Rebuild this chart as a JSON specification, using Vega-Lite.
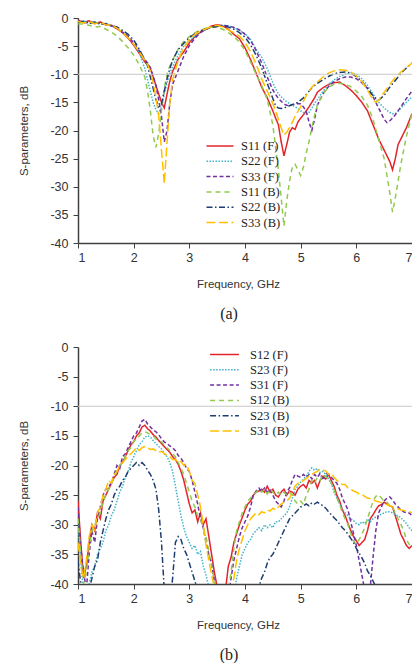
{
  "$schema": "https://vega.github.io/schema/vega-lite/v6.json",
  "background": "white",
  "padding": {"left": 18, "top": 12, "right": 0, "bottom": 0},
  "spacing": 19,
  "config": {
    "view": {"stroke": null},
    "axis": {
      "grid": false,
      "domainColor": "#404040",
      "domainWidth": 1.5,
      "tickColor": "#404040",
      "tickSize": 5,
      "labelOverlap": false,
      "labelFont": "Liberation Sans",
      "labelFontSize": 12.5,
      "labelColor": "#333333",
      "titleFont": "Liberation Sans",
      "titleFontSize": 11.5,
      "titleFontWeight": "normal",
      "titleColor": "#333333"
    },
    "legend": {
      "orient": "none",
      "title": null,
      "padding": 0,
      "symbolType": "M-1.9,0H1.9",
      "symbolStrokeWidth": 1.5,
      "labelFont": "Liberation Serif",
      "labelFontSize": 12.5,
      "labelColor": "#222222"
    },
    "title": {
      "orient": "bottom",
      "font": "Liberation Serif",
      "fontSize": 16,
      "fontWeight": "normal",
      "color": "#222222",
      "offset": 16,
      "dx": -16
    }
  },
  "resolve": {
    "scale": {"color": "independent", "strokeDash": "independent"},
    "legend": {"color": "independent", "strokeDash": "independent"}
  },
  "datasets": {
    "a": [
      {"f": 1.0, "S11F": -0.4, "S22F": -0.6, "S33F": -0.5, "S11B": -1.0, "S22B": -0.8, "S33B": -0.6},
      {"f": 1.1, "S11F": -0.8, "S22F": -0.5, "S33F": -0.9, "S11B": -1.1, "S22B": -0.6, "S33B": -0.9},
      {"f": 1.2, "S11F": -0.5, "S22F": -0.9, "S33F": -0.6, "S11B": -1.3, "S22B": -1.0, "S33B": -0.6},
      {"f": 1.3, "S11F": -1.0, "S22F": -0.7, "S33F": -1.0, "S11B": -1.6, "S22B": -0.7, "S33B": -1.0},
      {"f": 1.4, "S11F": -0.7, "S22F": -1.1, "S33F": -0.8, "S11B": -1.5, "S22B": -1.1, "S33B": -0.8},
      {"f": 1.5, "S11F": -1.2, "S22F": -1.0, "S33F": -1.2, "S11B": -2.0, "S22B": -1.0, "S33B": -1.2},
      {"f": 1.6, "S11F": -1.3, "S22F": -1.4, "S33F": -1.4, "S11B": -2.5, "S22B": -1.4, "S33B": -1.3},
      {"f": 1.7, "S11F": -1.9, "S22F": -1.8, "S33F": -1.9, "S11B": -3.2, "S22B": -1.6, "S33B": -1.8},
      {"f": 1.8, "S11F": -2.6, "S22F": -2.5, "S33F": -2.5, "S11B": -4.2, "S22B": -2.2, "S33B": -2.6},
      {"f": 1.9, "S11F": -3.6, "S22F": -3.3, "S33F": -3.3, "S11B": -5.3, "S22B": -2.9, "S33B": -3.5},
      {"f": 2.0, "S11F": -4.8, "S22F": -4.6, "S33F": -4.4, "S11B": -6.6, "S22B": -3.9, "S33B": -4.6},
      {"f": 2.1, "S11F": -6.3, "S22F": -6.2, "S33F": -5.8, "S11B": -8.3, "S22B": -5.5, "S33B": -6.0},
      {"f": 2.2, "S11F": -7.8, "S22F": -9.0, "S33F": -7.4, "S11B": -10.5, "S22B": -7.5, "S33B": -7.6},
      {"f": 2.25, "S11F": -8.2, "S22F": -11.0, "S33F": -8.0, "S11B": -13.0, "S22B": -8.5, "S33B": -8.3},
      {"f": 2.3, "S11F": -9.0, "S22F": -13.0, "S33F": -8.8, "S11B": -16.5, "S22B": -10.5, "S33B": -9.5},
      {"f": 2.35, "S11F": -10.5, "S22F": -15.0, "S33F": -10.3, "S11B": -21.0, "S22B": -12.5, "S33B": -11.5},
      {"f": 2.4, "S11F": -12.0, "S22F": -16.3, "S33F": -12.0, "S11B": -23.0, "S22B": -14.5, "S33B": -14.0},
      {"f": 2.45, "S11F": -13.5, "S22F": -17.0, "S33F": -14.5, "S11B": -20.5, "S22B": -15.8, "S33B": -17.5},
      {"f": 2.5, "S11F": -15.0, "S22F": -15.8, "S33F": -17.5, "S11B": -16.5, "S22B": -15.3, "S33B": -23.5},
      {"f": 2.55, "S11F": -16.0, "S22F": -13.5, "S33F": -22.0, "S11B": -12.5, "S22B": -13.0, "S33B": -29.5},
      {"f": 2.6, "S11F": -13.5, "S22F": -11.5, "S33F": -20.0, "S11B": -10.0, "S22B": -10.8, "S33B": -22.0},
      {"f": 2.65, "S11F": -11.2, "S22F": -9.8, "S33F": -15.0, "S11B": -8.5, "S22B": -9.0, "S33B": -15.0},
      {"f": 2.7, "S11F": -9.5, "S22F": -8.6, "S33F": -11.8, "S11B": -7.5, "S22B": -7.5, "S33B": -11.0},
      {"f": 2.8, "S11F": -7.3, "S22F": -6.6, "S33F": -9.3, "S11B": -5.5, "S22B": -5.6, "S33B": -7.5},
      {"f": 2.9, "S11F": -6.0, "S22F": -5.0, "S33F": -6.8, "S11B": -4.2, "S22B": -4.5, "S33B": -5.3},
      {"f": 3.0, "S11F": -4.4, "S22F": -4.0, "S33F": -4.9, "S11B": -3.3, "S22B": -3.5, "S33B": -3.8},
      {"f": 3.1, "S11F": -3.3, "S22F": -3.2, "S33F": -3.6, "S11B": -2.6, "S22B": -2.8, "S33B": -2.9},
      {"f": 3.2, "S11F": -2.5, "S22F": -2.5, "S33F": -2.6, "S11B": -2.2, "S22B": -2.3, "S33B": -2.3},
      {"f": 3.3, "S11F": -2.0, "S22F": -2.0, "S33F": -2.0, "S11B": -1.8, "S22B": -1.9, "S33B": -1.9},
      {"f": 3.4, "S11F": -1.4, "S22F": -1.6, "S33F": -1.6, "S11B": -1.6, "S22B": -1.6, "S33B": -1.5},
      {"f": 3.5, "S11F": -1.2, "S22F": -1.4, "S33F": -1.4, "S11B": -1.7, "S22B": -1.5, "S33B": -1.3},
      {"f": 3.6, "S11F": -1.4, "S22F": -1.3, "S33F": -1.3, "S11B": -2.0, "S22B": -1.4, "S33B": -1.6},
      {"f": 3.7, "S11F": -2.0, "S22F": -1.4, "S33F": -1.4, "S11B": -2.6, "S22B": -1.6, "S33B": -2.1},
      {"f": 3.8, "S11F": -2.9, "S22F": -1.7, "S33F": -1.7, "S11B": -3.3, "S22B": -2.0, "S33B": -2.6},
      {"f": 3.9, "S11F": -3.7, "S22F": -2.2, "S33F": -2.1, "S11B": -4.3, "S22B": -2.6, "S33B": -3.2},
      {"f": 4.0, "S11F": -5.3, "S22F": -2.8, "S33F": -2.9, "S11B": -5.8, "S22B": -3.4, "S33B": -4.3},
      {"f": 4.1, "S11F": -7.4, "S22F": -3.8, "S33F": -4.0, "S11B": -7.8, "S22B": -4.8, "S33B": -6.0},
      {"f": 4.2, "S11F": -9.8, "S22F": -5.5, "S33F": -5.8, "S11B": -10.0, "S22B": -6.6, "S33B": -8.2},
      {"f": 4.3, "S11F": -12.3, "S22F": -7.0, "S33F": -8.0, "S11B": -12.0, "S22B": -8.9, "S33B": -10.8},
      {"f": 4.4, "S11F": -14.2, "S22F": -9.0, "S33F": -10.5, "S11B": -14.5, "S22B": -11.6, "S33B": -13.0},
      {"f": 4.5, "S11F": -16.5, "S22F": -11.5, "S33F": -12.8, "S11B": -19.0, "S22B": -14.3, "S33B": -15.2},
      {"f": 4.55, "S11F": -17.8, "S22F": -12.6, "S33F": -13.6, "S11B": -23.0, "S22B": -15.6, "S33B": -16.5},
      {"f": 4.6, "S11F": -19.0, "S22F": -13.5, "S33F": -14.3, "S11B": -27.0, "S22B": -16.0, "S33B": -18.0},
      {"f": 4.65, "S11F": -22.0, "S22F": -14.0, "S33F": -14.8, "S11B": -32.0, "S22B": -16.1, "S33B": -19.5},
      {"f": 4.7, "S11F": -24.5, "S22F": -14.5, "S33F": -15.3, "S11B": -37.0, "S22B": -16.0, "S33B": -20.8},
      {"f": 4.75, "S11F": -22.5, "S22F": -14.9, "S33F": -15.5, "S11B": -32.5, "S22B": -15.8, "S33B": -20.3},
      {"f": 4.8, "S11F": -20.3, "S22F": -15.2, "S33F": -15.6, "S11B": -29.0, "S22B": -15.6, "S33B": -19.5},
      {"f": 4.85, "S11F": -19.5, "S22F": -15.5, "S33F": -15.4, "S11B": -26.5, "S22B": -15.4, "S33B": -18.5},
      {"f": 4.9, "S11F": -19.8, "S22F": -15.8, "S33F": -15.3, "S11B": -26.0, "S22B": -15.2, "S33B": -17.5},
      {"f": 4.95, "S11F": -18.5, "S22F": -16.1, "S33F": -15.2, "S11B": -27.0, "S22B": -15.0, "S33B": -16.6},
      {"f": 5.0, "S11F": -17.8, "S22F": -16.5, "S33F": -15.3, "S11B": -28.0, "S22B": -14.6, "S33B": -15.8},
      {"f": 5.05, "S11F": -17.2, "S22F": -16.8, "S33F": -15.8, "S11B": -26.5, "S22B": -14.2, "S33B": -14.8},
      {"f": 5.1, "S11F": -16.5, "S22F": -17.0, "S33F": -16.6, "S11B": -24.0, "S22B": -13.6, "S33B": -13.8},
      {"f": 5.15, "S11F": -15.8, "S22F": -16.8, "S33F": -18.5, "S11B": -22.0, "S22B": -13.0, "S33B": -13.0},
      {"f": 5.2, "S11F": -15.0, "S22F": -16.0, "S33F": -20.0, "S11B": -19.5, "S22B": -12.4, "S33B": -12.3},
      {"f": 5.25, "S11F": -14.2, "S22F": -15.2, "S33F": -18.0, "S11B": -17.3, "S22B": -12.0, "S33B": -11.8},
      {"f": 5.3, "S11F": -13.2, "S22F": -14.5, "S33F": -15.5, "S11B": -15.5, "S22B": -11.6, "S33B": -11.4},
      {"f": 5.4, "S11F": -12.4, "S22F": -13.0, "S33F": -13.5, "S11B": -13.5, "S22B": -11.0, "S33B": -10.5},
      {"f": 5.5, "S11F": -11.8, "S22F": -11.8, "S33F": -12.2, "S11B": -12.3, "S22B": -10.4, "S33B": -9.8},
      {"f": 5.6, "S11F": -11.5, "S22F": -11.0, "S33F": -11.3, "S11B": -11.8, "S22B": -9.9, "S33B": -9.4},
      {"f": 5.7, "S11F": -11.4, "S22F": -10.4, "S33F": -10.8, "S11B": -11.6, "S22B": -9.7, "S33B": -9.2},
      {"f": 5.8, "S11F": -12.0, "S22F": -10.0, "S33F": -10.5, "S11B": -11.8, "S22B": -9.6, "S33B": -9.3},
      {"f": 5.9, "S11F": -12.8, "S22F": -9.7, "S33F": -10.5, "S11B": -12.2, "S22B": -9.8, "S33B": -9.6},
      {"f": 6.0, "S11F": -13.8, "S22F": -10.0, "S33F": -10.8, "S11B": -13.0, "S22B": -10.4, "S33B": -10.3},
      {"f": 6.1, "S11F": -15.0, "S22F": -10.8, "S33F": -11.5, "S11B": -14.0, "S22B": -11.3, "S33B": -11.3},
      {"f": 6.2, "S11F": -16.5, "S22F": -12.0, "S33F": -12.5, "S11B": -15.5, "S22B": -12.5, "S33B": -12.8},
      {"f": 6.3, "S11F": -19.0, "S22F": -13.5, "S33F": -14.0, "S11B": -18.0, "S22B": -13.8, "S33B": -14.6},
      {"f": 6.35, "S11F": -20.2, "S22F": -14.3, "S33F": -15.0, "S11B": -19.8, "S22B": -14.3, "S33B": -15.0},
      {"f": 6.4, "S11F": -21.5, "S22F": -15.0, "S33F": -16.0, "S11B": -21.5, "S22B": -14.6, "S33B": -14.6},
      {"f": 6.5, "S11F": -23.5, "S22F": -16.0, "S33F": -18.0, "S11B": -25.0, "S22B": -13.8, "S33B": -13.2},
      {"f": 6.55, "S11F": -24.5, "S22F": -16.4, "S33F": -18.6, "S11B": -28.0, "S22B": -13.0, "S33B": -12.5},
      {"f": 6.6, "S11F": -25.5, "S22F": -16.8, "S33F": -18.3, "S11B": -31.0, "S22B": -12.3, "S33B": -11.8},
      {"f": 6.65, "S11F": -27.0, "S22F": -17.0, "S33F": -17.8, "S11B": -34.5, "S22B": -11.7, "S33B": -11.2},
      {"f": 6.7, "S11F": -25.0, "S22F": -17.0, "S33F": -17.2, "S11B": -32.0, "S22B": -11.1, "S33B": -10.6},
      {"f": 6.75, "S11F": -22.5, "S22F": -16.6, "S33F": -16.5, "S11B": -29.0, "S22B": -10.5, "S33B": -10.1},
      {"f": 6.8, "S11F": -21.5, "S22F": -16.0, "S33F": -15.8, "S11B": -26.0, "S22B": -9.8, "S33B": -9.6},
      {"f": 6.9, "S11F": -19.5, "S22F": -15.0, "S33F": -14.3, "S11B": -21.0, "S22B": -8.9, "S33B": -8.8},
      {"f": 7.0, "S11F": -17.0, "S22F": -14.0, "S33F": -13.0, "S11B": -17.0, "S22B": -8.0, "S33B": -8.0}
    ],
    "b": [
      {"f": 1.00, "S12F": -26, "S23F": -30, "S31F": -27, "S12B": -29, "S23B": -36, "S31B": -33},
      {"f": 1.05, "S12F": -33, "S23F": -36, "S31F": -34, "S12B": -35, "S23B": -40, "S31B": -37},
      {"f": 1.10, "S12F": -39, "S23F": -42, "S31F": -38, "S12B": -40, "S23B": -43, "S31B": -39},
      {"f": 1.15, "S12F": -37, "S23F": -41, "S31F": -41, "S12B": -38, "S23B": -42, "S31B": -36},
      {"f": 1.20, "S12F": -33, "S23F": -40, "S31F": -35, "S12B": -34, "S23B": -41, "S31B": -32},
      {"f": 1.25, "S12F": -30, "S23F": -38, "S31F": -31, "S12B": -31, "S23B": -39, "S31B": -30},
      {"f": 1.30, "S12F": -31, "S23F": -37, "S31F": -33, "S12B": -30, "S23B": -37, "S31B": -31},
      {"f": 1.35, "S12F": -28, "S23F": -35, "S31F": -29, "S12B": -29, "S23B": -36, "S31B": -28},
      {"f": 1.40, "S12F": -29, "S23F": -34, "S31F": -27, "S12B": -28, "S23B": -33, "S31B": -27},
      {"f": 1.45, "S12F": -26, "S23F": -33, "S31F": -25, "S12B": -26, "S23B": -31, "S31B": -25},
      {"f": 1.50, "S12F": -25, "S23F": -31, "S31F": -24, "S12B": -25, "S23B": -29, "S31B": -24},
      {"f": 1.55, "S12F": -24, "S23F": -30, "S31F": -23.5, "S12B": -24, "S23B": -27.5, "S31B": -22.5},
      {"f": 1.60, "S12F": -23, "S23F": -28.5, "S31F": -23, "S12B": -23, "S23B": -26.5, "S31B": -23},
      {"f": 1.65, "S12F": -22, "S23F": -27.5, "S31F": -21.5, "S12B": -22, "S23B": -25, "S31B": -21.5},
      {"f": 1.70, "S12F": -21.5, "S23F": -26, "S31F": -20, "S12B": -21, "S23B": -24, "S31B": -21},
      {"f": 1.75, "S12F": -20, "S23F": -24.5, "S31F": -20.5, "S12B": -20, "S23B": -23.5, "S31B": -20},
      {"f": 1.80, "S12F": -19.5, "S23F": -23.5, "S31F": -18.5, "S12B": -19.5, "S23B": -22.5, "S31B": -19.5},
      {"f": 1.85, "S12F": -18.5, "S23F": -22, "S31F": -18, "S12B": -18.5, "S23B": -22, "S31B": -19},
      {"f": 1.90, "S12F": -17.5, "S23F": -21, "S31F": -17, "S12B": -17.5, "S23B": -21, "S31B": -18.5},
      {"f": 1.95, "S12F": -16.5, "S23F": -19.5, "S31F": -16, "S12B": -17, "S23B": -20.5, "S31B": -18},
      {"f": 2.00, "S12F": -16, "S23F": -18.5, "S31F": -15, "S12B": -16, "S23B": -20, "S31B": -17.5},
      {"f": 2.05, "S12F": -15, "S23F": -17.5, "S31F": -14.5, "S12B": -15.5, "S23B": -19.5, "S31B": -17},
      {"f": 2.10, "S12F": -14.5, "S23F": -16.5, "S31F": -13.5, "S12B": -15, "S23B": -20, "S31B": -17.5},
      {"f": 2.15, "S12F": -13.5, "S23F": -16, "S31F": -12.5, "S12B": -14.5, "S23B": -19.5, "S31B": -17},
      {"f": 2.20, "S12F": -13.2, "S23F": -15.2, "S31F": -12.2, "S12B": -14.3, "S23B": -20, "S31B": -16.8},
      {"f": 2.25, "S12F": -13.8, "S23F": -15, "S31F": -13, "S12B": -14.5, "S23B": -20.8, "S31B": -17},
      {"f": 2.30, "S12F": -14.2, "S23F": -15.2, "S31F": -13.5, "S12B": -14.8, "S23B": -21.5, "S31B": -17.3},
      {"f": 2.35, "S12F": -14.8, "S23F": -15.8, "S31F": -14, "S12B": -15, "S23B": -22.5, "S31B": -17.2},
      {"f": 2.40, "S12F": -15.2, "S23F": -16.3, "S31F": -14.3, "S12B": -15.5, "S23B": -24, "S31B": -17.5},
      {"f": 2.45, "S12F": -15.8, "S23F": -16.8, "S31F": -14.8, "S12B": -15.8, "S23B": -27.5, "S31B": -17.8},
      {"f": 2.50, "S12F": -16.3, "S23F": -17.2, "S31F": -15.5, "S12B": -16, "S23B": -33, "S31B": -17.6},
      {"f": 2.55, "S12F": -16.8, "S23F": -18, "S31F": -16, "S12B": -16.5, "S23B": -41, "S31B": -18},
      {"f": 2.60, "S12F": -17.3, "S23F": -18.5, "S31F": -16.3, "S12B": -17, "S23B": -46, "S31B": -18.3},
      {"f": 2.65, "S12F": -17.8, "S23F": -19.5, "S31F": -16.7, "S12B": -17.5, "S23B": -43, "S31B": -18.5},
      {"f": 2.70, "S12F": -18.5, "S23F": -21, "S31F": -17, "S12B": -18, "S23B": -39, "S31B": -19},
      {"f": 2.75, "S12F": -19, "S23F": -23.5, "S31F": -17.5, "S12B": -18.5, "S23B": -33, "S31B": -19},
      {"f": 2.80, "S12F": -19.8, "S23F": -26, "S31F": -18.3, "S12B": -19.5, "S23B": -32, "S31B": -19.5},
      {"f": 2.85, "S12F": -21, "S23F": -28.5, "S31F": -18.8, "S12B": -20.5, "S23B": -32.5, "S31B": -19.3},
      {"f": 2.90, "S12F": -22.5, "S23F": -30.5, "S31F": -19.5, "S12B": -21.5, "S23B": -34, "S31B": -20},
      {"f": 2.95, "S12F": -24.5, "S23F": -32, "S31F": -20.5, "S12B": -23, "S23B": -35, "S31B": -19.8},
      {"f": 3.00, "S12F": -26.5, "S23F": -33, "S31F": -21, "S12B": -24.5, "S23B": -36.5, "S31B": -21},
      {"f": 3.05, "S12F": -28, "S23F": -34, "S31F": -22.5, "S12B": -26, "S23B": -38, "S31B": -22.5},
      {"f": 3.10, "S12F": -27.5, "S23F": -33.5, "S31F": -24.5, "S12B": -27, "S23B": -39.5, "S31B": -23},
      {"f": 3.15, "S12F": -29.5, "S23F": -35, "S31F": -26.5, "S12B": -28.5, "S23B": -41, "S31B": -25},
      {"f": 3.20, "S12F": -28, "S23F": -34.5, "S31F": -29, "S12B": -29, "S23B": -46, "S31B": -27},
      {"f": 3.25, "S12F": -30, "S23F": -37, "S31F": -30.5, "S12B": -30.5, "S23B": -48, "S31B": -30},
      {"f": 3.30, "S12F": -29, "S23F": -38.5, "S31F": -33, "S12B": -32, "S23B": -50, "S31B": -33.5},
      {"f": 3.35, "S12F": -32, "S23F": -40.5, "S31F": -35, "S12B": -34.5, "S23B": -50, "S31B": -36},
      {"f": 3.40, "S12F": -35, "S23F": -43, "S31F": -36.5, "S12B": -37, "S23B": -50, "S31B": -38.5},
      {"f": 3.45, "S12F": -38, "S23F": -46, "S31F": -39.5, "S12B": -39.5, "S23B": -50, "S31B": -40.5},
      {"f": 3.50, "S12F": -40.5, "S23F": -48, "S31F": -42, "S12B": -42, "S23B": -50, "S31B": -43},
      {"f": 3.55, "S12F": -43, "S23F": -50, "S31F": -45, "S12B": -45, "S23B": -50, "S31B": -45},
      {"f": 3.60, "S12F": -44, "S23F": -50, "S31F": -46, "S12B": -46, "S23B": -50, "S31B": -46},
      {"f": 3.65, "S12F": -41, "S23F": -50, "S31F": -45, "S12B": -44, "S23B": -50, "S31B": -46},
      {"f": 3.70, "S12F": -37, "S23F": -48, "S31F": -42, "S12B": -41, "S23B": -50, "S31B": -44},
      {"f": 3.75, "S12F": -35.5, "S23F": -45, "S31F": -39, "S12B": -38, "S23B": -50, "S31B": -41},
      {"f": 3.80, "S12F": -33, "S23F": -42, "S31F": -36, "S12B": -34, "S23B": -50, "S31B": -39},
      {"f": 3.85, "S12F": -31.5, "S23F": -39, "S31F": -34, "S12B": -31, "S23B": -50, "S31B": -36},
      {"f": 3.90, "S12F": -30, "S23F": -37, "S31F": -32, "S12B": -29.5, "S23B": -50, "S31B": -34},
      {"f": 3.95, "S12F": -28.8, "S23F": -35, "S31F": -30.5, "S12B": -28, "S23B": -50, "S31B": -32.5},
      {"f": 4.00, "S12F": -27.5, "S23F": -34, "S31F": -29.5, "S12B": -27, "S23B": -50, "S31B": -31},
      {"f": 4.05, "S12F": -26.5, "S23F": -33, "S31F": -28.5, "S12B": -26, "S23B": -48, "S31B": -30},
      {"f": 4.10, "S12F": -26, "S23F": -32.5, "S31F": -27, "S12B": -25.5, "S23B": -46, "S31B": -29},
      {"f": 4.15, "S12F": -25, "S23F": -31.5, "S31F": -25, "S12B": -25, "S23B": -44, "S31B": -28.5},
      {"f": 4.20, "S12F": -24.5, "S23F": -31, "S31F": -24.3, "S12B": -24.5, "S23B": -42, "S31B": -28},
      {"f": 4.25, "S12F": -24.3, "S23F": -30.5, "S31F": -23.8, "S12B": -24, "S23B": -40.5, "S31B": -28.3},
      {"f": 4.30, "S12F": -24, "S23F": -31, "S31F": -24.5, "S12B": -24.5, "S23B": -39, "S31B": -27.8},
      {"f": 4.35, "S12F": -24.5, "S23F": -30, "S31F": -23.8, "S12B": -24, "S23B": -38, "S31B": -28},
      {"f": 4.40, "S12F": -23.5, "S23F": -30.5, "S31F": -24.5, "S12B": -24.8, "S23B": -36.5, "S31B": -27.5},
      {"f": 4.45, "S12F": -24.5, "S23F": -30, "S31F": -24, "S12B": -24, "S23B": -35.5, "S31B": -27.7},
      {"f": 4.50, "S12F": -24, "S23F": -30.5, "S31F": -25, "S12B": -24.5, "S23B": -35, "S31B": -27.2},
      {"f": 4.55, "S12F": -25, "S23F": -29.5, "S31F": -26, "S12B": -25, "S23B": -34, "S31B": -27.5},
      {"f": 4.60, "S12F": -25.3, "S23F": -29.5, "S31F": -26.5, "S12B": -24.5, "S23B": -33, "S31B": -27},
      {"f": 4.65, "S12F": -24.5, "S23F": -29, "S31F": -27, "S12B": -25, "S23B": -32, "S31B": -26.5},
      {"f": 4.70, "S12F": -24, "S23F": -28.5, "S31F": -26, "S12B": -24.5, "S23B": -31, "S31B": -26.2},
      {"f": 4.75, "S12F": -25, "S23F": -28, "S31F": -24.5, "S12B": -25, "S23B": -30, "S31B": -26},
      {"f": 4.80, "S12F": -24.3, "S23F": -27, "S31F": -23.8, "S12B": -24.5, "S23B": -29, "S31B": -25.5},
      {"f": 4.85, "S12F": -24.5, "S23F": -25.5, "S31F": -22.5, "S12B": -25, "S23B": -28.5, "S31B": -24.5},
      {"f": 4.90, "S12F": -25, "S23F": -24, "S31F": -21.5, "S12B": -26, "S23B": -28, "S31B": -23.5},
      {"f": 4.95, "S12F": -24, "S23F": -23.5, "S31F": -21.8, "S12B": -26.5, "S23B": -27.5, "S31B": -23},
      {"f": 5.00, "S12F": -23.5, "S23F": -22.8, "S31F": -22, "S12B": -26, "S23B": -27, "S31B": -22.8},
      {"f": 5.05, "S12F": -23.2, "S23F": -22.3, "S31F": -21.5, "S12B": -26.6, "S23B": -26.8, "S31B": -22.5},
      {"f": 5.10, "S12F": -23.8, "S23F": -21.8, "S31F": -22, "S12B": -25, "S23B": -26.5, "S31B": -22.2},
      {"f": 5.15, "S12F": -22.5, "S23F": -21, "S31F": -21.5, "S12B": -24, "S23B": -26.8, "S31B": -21.8},
      {"f": 5.20, "S12F": -23, "S23F": -20.4, "S31F": -22.3, "S12B": -22.5, "S23B": -26.3, "S31B": -21.5},
      {"f": 5.25, "S12F": -22.5, "S23F": -20.8, "S31F": -21.5, "S12B": -23, "S23B": -26.5, "S31B": -21.2},
      {"f": 5.30, "S12F": -23.8, "S23F": -20.5, "S31F": -22, "S12B": -22, "S23B": -26.2, "S31B": -21},
      {"f": 5.35, "S12F": -22.5, "S23F": -21.2, "S31F": -21.3, "S12B": -22.5, "S23B": -26.5, "S31B": -20.6},
      {"f": 5.40, "S12F": -21.8, "S23F": -21, "S31F": -22.5, "S12B": -21.5, "S23B": -26.8, "S31B": -20.8},
      {"f": 5.45, "S12F": -22.3, "S23F": -21.5, "S31F": -21.3, "S12B": -22, "S23B": -27.2, "S31B": -20.9},
      {"f": 5.50, "S12F": -21.5, "S23F": -22.3, "S31F": -21.5, "S12B": -22.1, "S23B": -27.8, "S31B": -21.5},
      {"f": 5.55, "S12F": -22.5, "S23F": -23, "S31F": -22, "S12B": -23, "S23B": -28.3, "S31B": -21.3},
      {"f": 5.60, "S12F": -23.5, "S23F": -24.5, "S31F": -22.5, "S12B": -24, "S23B": -28.8, "S31B": -22},
      {"f": 5.65, "S12F": -25, "S23F": -25.5, "S31F": -23, "S12B": -25.5, "S23B": -29.3, "S31B": -22.5},
      {"f": 5.70, "S12F": -26, "S23F": -26.5, "S31F": -24, "S12B": -26.5, "S23B": -29.9, "S31B": -22.8},
      {"f": 5.75, "S12F": -27.5, "S23F": -27.5, "S31F": -25.5, "S12B": -28, "S23B": -30.5, "S31B": -23.2},
      {"f": 5.80, "S12F": -28.5, "S23F": -28, "S31F": -26.5, "S12B": -29, "S23B": -31, "S31B": -23.2},
      {"f": 5.85, "S12F": -29.8, "S23F": -28.5, "S31F": -27.5, "S12B": -30, "S23B": -31.6, "S31B": -23.8},
      {"f": 5.90, "S12F": -31, "S23F": -29, "S31F": -29.5, "S12B": -31.5, "S23B": -32.3, "S31B": -24},
      {"f": 5.95, "S12F": -32, "S23F": -29.3, "S31F": -31.5, "S12B": -32.8, "S23B": -33, "S31B": -24.3},
      {"f": 6.00, "S12F": -32.7, "S23F": -29.8, "S31F": -33.5, "S12B": -33.3, "S23B": -34, "S31B": -24.5},
      {"f": 6.05, "S12F": -33.5, "S23F": -30, "S31F": -36, "S12B": -32.5, "S23B": -34.8, "S31B": -24.8},
      {"f": 6.10, "S12F": -33, "S23F": -29.5, "S31F": -38.5, "S12B": -31.6, "S23B": -35.6, "S31B": -24.9},
      {"f": 6.15, "S12F": -32.5, "S23F": -29.8, "S31F": -41, "S12B": -30.5, "S23B": -36.5, "S31B": -25.2},
      {"f": 6.20, "S12F": -31, "S23F": -29, "S31F": -43, "S12B": -29, "S23B": -37.8, "S31B": -25.5},
      {"f": 6.25, "S12F": -29, "S23F": -29.5, "S31F": -40.5, "S12B": -27.5, "S23B": -38.5, "S31B": -25.6},
      {"f": 6.30, "S12F": -28.3, "S23F": -29, "S31F": -35.5, "S12B": -26, "S23B": -39.5, "S31B": -25.8},
      {"f": 6.35, "S12F": -27.5, "S23F": -28.7, "S31F": -31, "S12B": -25.2, "S23B": -40.5, "S31B": -26},
      {"f": 6.40, "S12F": -26.8, "S23F": -28.5, "S31F": -28, "S12B": -24.9, "S23B": -42, "S31B": -26.1},
      {"f": 6.45, "S12F": -26.6, "S23F": -28.2, "S31F": -27, "S12B": -25.5, "S23B": -43, "S31B": -26.3},
      {"f": 6.50, "S12F": -26.2, "S23F": -28, "S31F": -26, "S12B": -26, "S23B": -44, "S31B": -26.5},
      {"f": 6.55, "S12F": -26.5, "S23F": -27.8, "S31F": -25.5, "S12B": -26.2, "S23B": -45, "S31B": -26.6},
      {"f": 6.60, "S12F": -26.8, "S23F": -27.8, "S31F": -25.3, "S12B": -26.8, "S23B": -46, "S31B": -26.8},
      {"f": 6.65, "S12F": -27, "S23F": -28, "S31F": -25.8, "S12B": -27, "S23B": -47, "S31B": -27},
      {"f": 6.70, "S12F": -28.5, "S23F": -28.3, "S31F": -26.5, "S12B": -28, "S23B": -48, "S31B": -27.1},
      {"f": 6.75, "S12F": -30, "S23F": -28.5, "S31F": -27, "S12B": -29, "S23B": -49, "S31B": -27.3},
      {"f": 6.80, "S12F": -31.6, "S23F": -28.8, "S31F": -27.5, "S12B": -29.9, "S23B": -50, "S31B": -27.5},
      {"f": 6.85, "S12F": -32.5, "S23F": -29.3, "S31F": -27.8, "S12B": -31, "S23B": -50, "S31B": -27.6},
      {"f": 6.90, "S12F": -33.5, "S23F": -29.8, "S31F": -28, "S12B": -32.5, "S23B": -50, "S31B": -27.7},
      {"f": 6.95, "S12F": -34, "S23F": -30.5, "S31F": -28, "S12B": -33.3, "S23B": -50, "S31B": -27.8},
      {"f": 7.00, "S12F": -33.5, "S23F": -31, "S31F": -28.5, "S12B": -33.8, "S23B": -50, "S31B": -28}
    ]
  },
  "vconcat": [
    {
      "width": 334,
      "height": 225,
      "title": {"text": "(a)"},
      "layer": [
        {
          "data": {"name": "a"},
          "transform": [
            {"fold": ["S11F", "S22F", "S33F", "S11B", "S22B", "S33B"], "as": ["series", "v"]}
          ],
          "mark": {"type": "line", "clip": true, "strokeWidth": 1.5},
          "encoding": {
            "x": {
              "field": "f", "type": "quantitative",
              "scale": {"domain": [1, 7], "nice": false},
              "axis": {"values": [1, 2, 3, 4, 5, 6, 7], "labelExpr": "'' + datum.value", "title": "Frequency, GHz", "labelPadding": 3, "titlePadding": 15, "titleX": 160}
            },
            "y": {
              "field": "v", "type": "quantitative",
              "scale": {"domain": [-40, 0], "nice": false},
              "axis": {"values": [-40, -35, -30, -25, -20, -15, -10, -5, 0], "tickCount": 12, "labelExpr": "'' + datum.value", "title": "S-parameters, dB", "labelPadding": 5, "titlePadding": 20}
            },
            "color": {
              "field": "series", "type": "nominal",
              "scale": {"domain": ["S11F", "S22F", "S33F", "S11B", "S22B", "S33B"], "range": ["#e3242b", "#40b4cc", "#7030a0", "#92c94f", "#1f3d6e", "#ffc000"]},
              "legend": {"legendX": 134, "legendY": 120, "symbolSize": 202, "labelOffset": 13, "rowPadding": 0.3, "labelExpr": "slice(datum.label,0,3) + ' (' + slice(datum.label,3) + ')'"}
            },
            "strokeDash": {
              "field": "series", "type": "nominal",
              "scale": {"domain": ["S11F", "S22F", "S33F", "S11B", "S22B", "S33B"], "range": [[1, 0], [1.5, 1.5], [4, 2.5], [5, 4], [6, 2.5, 1.5, 2.5], [9, 3.5]]},
              "legend": {"legendX": 134, "legendY": 120, "symbolSize": 202, "labelOffset": 13, "rowPadding": 0.3, "labelExpr": "slice(datum.label,0,3) + ' (' + slice(datum.label,3) + ')'"}
            }
          }
        },
        {
          "data": {"values": [{}]},
          "mark": {"type": "rule", "color": "#c8c8c8", "strokeWidth": 1},
          "encoding": {"y": {"datum": -10}}
        }
      ]
    },
    {
      "width": 334,
      "height": 237,
      "title": {"text": "(b)"},
      "layer": [
        {
          "data": {"name": "b"},
          "transform": [
            {"fold": ["S12F", "S23F", "S31F", "S12B", "S23B", "S31B"], "as": ["series", "v"]}
          ],
          "mark": {"type": "line", "clip": true, "strokeWidth": 1.5},
          "encoding": {
            "x": {
              "field": "f", "type": "quantitative",
              "scale": {"domain": [1, 7], "nice": false},
              "axis": {"values": [1, 2, 3, 4, 5, 6, 7], "labelExpr": "'' + datum.value", "title": "Frequency, GHz", "labelPadding": 3, "titlePadding": 15, "titleX": 160}
            },
            "y": {
              "field": "v", "type": "quantitative",
              "scale": {"domain": [-40, 0], "nice": false},
              "axis": {"values": [-40, -35, -30, -25, -20, -15, -10, -5, 0], "tickCount": 12, "labelExpr": "'' + datum.value", "title": "S-parameters, dB", "labelPadding": 5, "titlePadding": 20}
            },
            "color": {
              "field": "series", "type": "nominal",
              "scale": {"domain": ["S12F", "S23F", "S31F", "S12B", "S23B", "S31B"], "range": ["#e3242b", "#40b4cc", "#7030a0", "#92c94f", "#1f3d6e", "#ffc000"]},
              "legend": {"legendX": 138, "legendY": -1, "symbolSize": 230, "labelOffset": 17, "rowPadding": 0.3, "labelExpr": "slice(datum.label,0,3) + ' (' + slice(datum.label,3) + ')'"}
            },
            "strokeDash": {
              "field": "series", "type": "nominal",
              "scale": {"domain": ["S12F", "S23F", "S31F", "S12B", "S23B", "S31B"], "range": [[1, 0], [1.5, 1.5], [4, 2.5], [5, 4], [6, 2.5, 1.5, 2.5], [9, 3.5]]},
              "legend": {"legendX": 138, "legendY": -1, "symbolSize": 230, "labelOffset": 17, "rowPadding": 0.3, "labelExpr": "slice(datum.label,0,3) + ' (' + slice(datum.label,3) + ')'"}
            }
          }
        },
        {
          "data": {"values": [{}]},
          "mark": {"type": "rule", "color": "#c8c8c8", "strokeWidth": 1},
          "encoding": {"y": {"datum": -10}}
        }
      ]
    }
  ]
}
